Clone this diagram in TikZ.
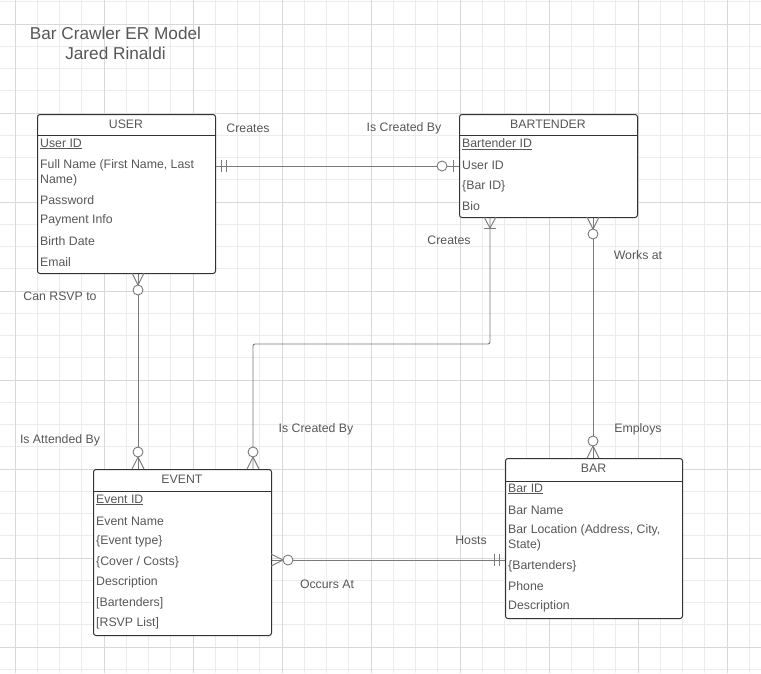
\documentclass[tikz,border=0pt]{standalone}
\usepackage{fontspec}
\setmainfont{Liberation Sans}
\definecolor{txt}{HTML}{575757}
\definecolor{edgec}{HTML}{333333}
\definecolor{connc}{HTML}{7A7A7A}
\definecolor{gridminor}{HTML}{ECECEC}
\definecolor{gridmajor}{HTML}{D8D8D8}
\tikzset{
  ent/.style={draw=edgec, line width=1pt, rounded corners=2.5pt, fill=white, inner sep=0pt, anchor=north west},
  sep/.style={draw=edgec, line width=1pt},
  attr/.style={anchor=west, inner sep=0pt, text=txt, font=\fontsize{12.3}{15}\selectfont, align=left},
  hdr/.style={inner sep=0pt, text=txt, font=\fontsize{12.3}{14}\selectfont},
  lbl/.style={inner sep=0pt, text=txt, font=\fontsize{12.3}{14}\selectfont},
  ttl/.style={inner sep=0pt, text=txt, font=\fontsize{17.2}{20}\selectfont},
  conn/.style={draw=connc, line width=0.9pt},
  pics/zmany/.style={code={\draw[conn] (0,-6)--(12,0)--(0,6); \draw[conn,fill=white] (17,0) circle[radius=5];}},
  pics/omany/.style={code={\draw[conn] (0,-6)--(11,0)--(0,6); \draw[conn] (11,-6)--(11,6);}},
  pics/zone/.style={code={\draw[conn] (6,-6)--(6,6); \draw[conn,fill=white] (17,0) circle[radius=5];}},
  pics/oone/.style={code={\draw[conn] (6,-6)--(6,6); \draw[conn] (11,-6)--(11,6);}},
}
\begin{document}
\begin{tikzpicture}[x=1pt,y=-1pt]
\useasboundingbox (0,0) rectangle (761,673);
\fill[white] (0,0) rectangle (761,673);
% grid
\foreach \k in {-1,...,33} {\draw[gridminor, line width=0.7pt] ({15+22.25*\k},0) -- ({15+22.25*\k},673);}
\foreach \k in {-1,...,29} {\draw[gridminor, line width=0.7pt] (0,{24+22.25*\k}) -- (761,{24+22.25*\k});}
\foreach \k in {0,...,8} {\draw[gridmajor, line width=0.8pt] ({15+89*\k},0) -- ({15+89*\k},673);}
\foreach \k in {0,...,7} {\draw[gridmajor, line width=0.8pt] (0,{24+89*\k}) -- (761,{24+89*\k});}

% title
\node[ttl] (t1) at (115.5,33) {Bar Crawler ER Model};
\node[ttl] (t2) at (115.5,53) {Jared Rinaldi};

% connector end coordinates
\coordinate (ue) at (215,166);
\coordinate (bw) at (459,166);
\coordinate (ub) at (138,273);
\coordinate (et1) at (138,469);
\coordinate (bb1) at (490,217);
\coordinate (k1) at (490,344);
\coordinate (k2) at (253,344);
\coordinate (et2) at (253,469);
\coordinate (bb2) at (593,217);
\coordinate (rt) at (593,458);
\coordinate (ee) at (271,560);
\coordinate (rw) at (505,560);

% connectors
\draw[conn] (ue) -- (bw);
\draw[conn] (ub) -- (et1);
\draw[conn, rounded corners=2pt] (bb1) -- (k1) -- (k2) -- (et2);
\draw[conn] (bb2) -- (rt);
\draw[conn] (ee) -- (rw);

% entities
\node[ent, minimum width=178, minimum height=159] (user) at (37,114) {};
\draw[sep] (37,135) -- (215,135);
\node[hdr] (userh) at (126,124) {USER};
\node[attr] (u1) at (40,144) {\underline{User ID}};
\node[attr] (u2) at (40,172.5) {Full Name (First Name, Last\\Name)};
\node[attr] (u3) at (40,200) {Password};
\node[attr] (u4) at (40,220) {Payment Info};
\node[attr] (u5) at (40,241) {Birth Date};
\node[attr] (u6) at (40,262) {Email};

\node[ent, minimum width=178, minimum height=103] (bt) at (459,114) {};
\draw[sep] (459,135) -- (637,135);
\node[hdr] (bth) at (548,124) {BARTENDER};
\node[attr] (b1) at (462,144) {\underline{Bartender ID}};
\node[attr] (b2) at (462,165) {User ID};
\node[attr] (b3) at (462,186) {\{Bar ID\}};
\node[attr] (b4) at (462,206) {Bio};

\node[ent, minimum width=178, minimum height=166] (ev) at (93,469) {};
\draw[sep] (93,491) -- (271,491);
\node[hdr] (evh) at (182,479) {EVENT};
\node[attr] (e1) at (96,500) {\underline{Event ID}};
\node[attr] (e2) at (96,521) {Event Name};
\node[attr] (e3) at (96,541) {\{Event type\}};
\node[attr] (e4) at (96,562) {\{Cover / Costs\}};
\node[attr] (e5) at (96,582) {Description};
\node[attr] (e6) at (96,603) {[Bartenders]};
\node[attr] (e7) at (96,623) {[RSVP List]};

\node[ent, minimum width=177, minimum height=160] (bar) at (505,458) {};
\draw[sep] (505,481) -- (682,481);
\node[hdr] (barh) at (593.5,468) {BAR};
\node[attr] (r1) at (508,489) {\underline{Bar ID}};
\node[attr] (r2) at (508,510) {Bar Name};
\node[attr] (r3) at (508,537.5) {Bar Location (Address, City,\\State)};
\node[attr] (r4) at (508,566) {\{Bartenders\}};
\node[attr] (r5) at (508,586) {Phone};
\node[attr] (r6) at (508,606) {Description};

% cardinality marks
\pic at (ue) {oone};
\pic[rotate=180] at (bw) {zone};
\pic[rotate=-90] at (ub) {zmany};
\pic[rotate=90] at (et1) {zmany};
\pic[rotate=-90] at (bb1) {omany};
\pic[rotate=90] at (et2) {zmany};
\pic[rotate=-90] at (bb2) {zmany};
\pic[rotate=90] at (rt) {zmany};
\pic at (ee) {zmany};
\pic[rotate=180] at (rw) {oone};

% relationship labels
\node[lbl] (l1) at (248,128) {Creates};
\node[lbl] (l2) at (404,128) {Is Created By};
\node[lbl] (l3) at (60,296) {Can RSVP to};
\node[lbl] (l4) at (60,440) {Is Attended By};
\node[lbl] (l5) at (449,240) {Creates};
\node[lbl] (l6) at (316,429) {Is Created By};
\node[lbl] (l7) at (638,255) {Works at};
\node[lbl] (l8) at (638,429) {Employs};
\node[lbl] (l9) at (471,540) {Hosts};
\node[lbl] (l10) at (327,584) {Occurs At};
\end{tikzpicture}
\end{document}
